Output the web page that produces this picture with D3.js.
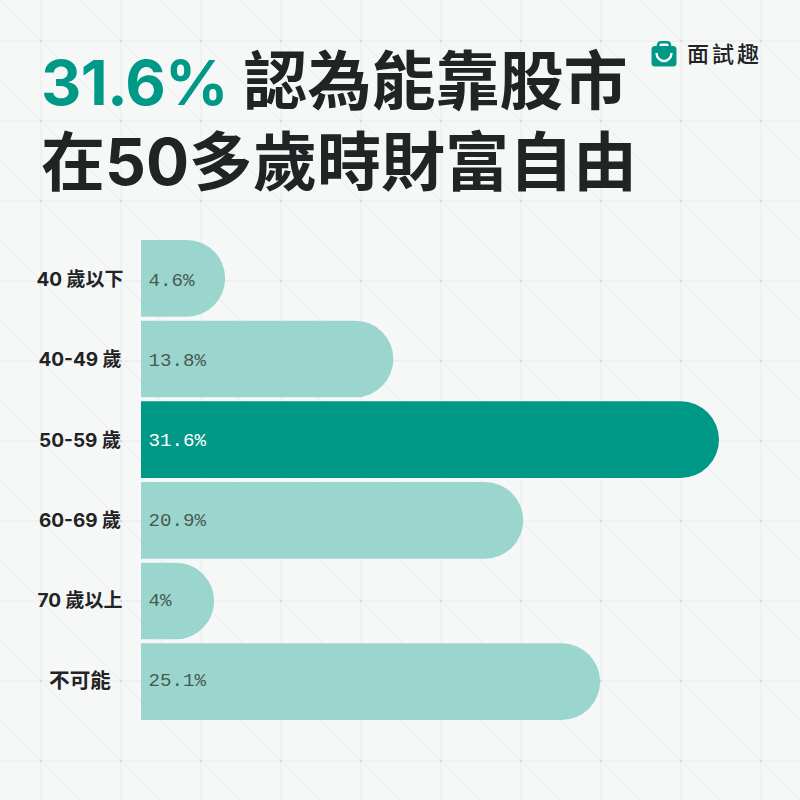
<!DOCTYPE html>
<html><head><meta charset="utf-8">
<script src="https://cdn.jsdelivr.net/npm/d3@7"></script>
<style>html,body{margin:0;padding:0;background:#f6f8f8}svg{display:block}</style>
</head><body><div id="c"></div>
<script>
const categories=["40 歲以下","40-49 歲","50-59 歲","60-69 歲","70 歲以上","不可能"];
const values=[4.6,13.8,31.6,20.9,4,25.1];
const valueLabels=["4.6%","13.8%","31.6%","20.9%","4%","25.1%"];
const highlight="50-59 歲";
const titleAccent="31.6%";
const titleLine1="認為能靠股市";
const titleLine2="在50多歲時財富自由";
const brand="面試趣";
const gridStops=d3.range(41,800,80);

const W=800,H=800;
const svg=d3.select("#c").append("svg").attr("width",W).attr("height",H);
svg.append("rect").attr("width",W).attr("height",H).attr("fill","#f6f8f8");
const bg=svg.append("g");
gridStops.concat([-39]).forEach(x=>{gridStops.concat([-39]).forEach(y=>{
  bg.append("line").attr("x1",x).attr("y1",y).attr("x2",x+80).attr("y2",y+80)
    .attr("stroke","#eef0f0").attr("stroke-width",1.3);
});});
gridStops.forEach(v=>{
  bg.append("line").attr("x1",v).attr("x2",v).attr("y1",0).attr("y2",H).attr("stroke","#f0f2f2").attr("stroke-width",2);
  bg.append("line").attr("y1",v).attr("y2",v).attr("x1",0).attr("x2",W).attr("stroke","#f0f2f2").attr("stroke-width",2);
});
gridStops.forEach(x=>gridStops.forEach(y=>{
  bg.append("rect").attr("x",x-1).attr("y",y-1).attr("width",2).attr("height",2).attr("fill","#d6d8d8");
}));

const x=d3.scaleLinear().domain([0,31.6]).range([141,719]);
const y=d3.scaleBand().domain(categories).range([240,720]).paddingInner(0.05).paddingOuter(0);
const valueY=d3.scalePoint().domain(categories).range([285.5,686]);
const catY=d3.scalePoint().domain(categories).range([286.2,687.5]);
const h=y.bandwidth();
const cjk='Inter,"Noto Sans CJK TC",sans-serif';
const teal="#009988",light="#9ad6ce",dark="#212325";

svg.selectAll("path.bar").data(categories).join("path").attr("class","bar")
  .attr("fill",d=>d===highlight?teal:light)
  .attr("d",(d,i)=>{
    const x0=x(0),x1=x(values[i]),y0=y(d),r=h/2;
    return `M${x0},${y0}H${x1-r}A${r},${r} 0 0 1 ${x1-r},${y0+h}H${x0}Z`;
  });

svg.selectAll("text.val").data(categories).join("text").attr("class","val")
  .attr("x",x(0)+7.5).attr("y",d=>valueY(d))
  .attr("font-family",'"Liberation Mono",monospace').attr("font-size",19.2)
  .attr("fill",d=>d===highlight?"#ffffff":"#4a5a53")
  .text((d,i)=>valueLabels[i]);

svg.selectAll("text.cat").data(categories).join("text").attr("class","cat")
  .attr("x",80).attr("y",d=>catY(d)).attr("text-anchor","middle")
  .attr("font-family",cjk).attr("font-weight",700).attr("font-size",d=>/^\d/.test(d)?19:20.6).attr("fill",dark)
  .text(d=>d);

const titleAttrs=s=>s.attr("font-family",cjk).attr("font-weight",700).attr("font-size",64).attr("fill",dark);
svg.append("text").attr("x",41).attr("y",105).call(titleAttrs).attr("font-size",62.5).attr("fill",teal).attr("letter-spacing",-0.7).text(titleAccent);
svg.append("text").attr("x",243.5).attr("y",103.5).call(titleAttrs).text(titleLine1);
svg.append("text").attr("x",41).attr("y",185).call(titleAttrs).text(titleLine2);

const b=svg.append("g").attr("transform","translate(651,41)");
b.append("path").attr("d","M7,6V4.5Q7,1.3 10,1.3H16Q19,1.3 19,4.5V6").attr("fill","none").attr("stroke",teal).attr("stroke-width",2.6);
b.append("rect").attr("x",0.5).attr("y",5).attr("width",25).attr("height",20.5).attr("rx",3.5).attr("fill",teal);
b.append("path").attr("d","M5.5,12A7.5,8 0 0 0 20.5,12").attr("fill","none").attr("stroke","#f6f8f8").attr("stroke-width",2.4);
svg.append("text").attr("x",687).attr("y",62).attr("font-family",'"Noto Sans CJK TC",sans-serif').attr("font-weight",500).attr("font-size",22).attr("letter-spacing",3).attr("fill",dark).text(brand);
</script></body></html>
